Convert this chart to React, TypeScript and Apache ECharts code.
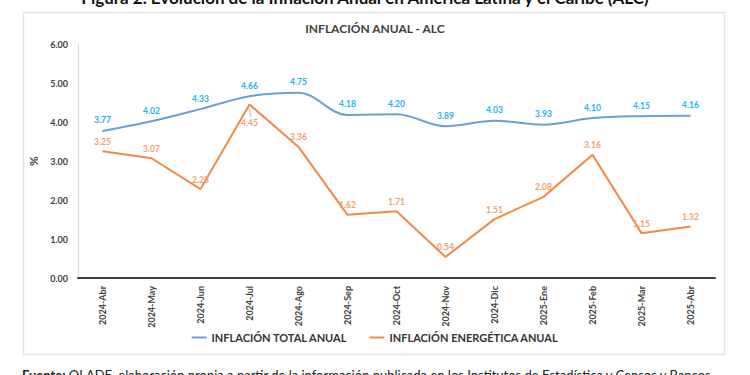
import React, { useEffect, useRef } from "react";
import * as echarts from "echarts";

const categories = [
  "2024-Abr", "2024-May", "2024-Jun", "2024-Jul", "2024-Ago", "2024-Sep", "2024-Oct",
  "2024-Nov", "2024-Dic", "2025-Ene", "2025-Feb", "2025-Mar", "2025-Abr",
];
const inflacionTotal = [3.77, 4.02, 4.33, 4.66, 4.75, 4.18, 4.2, 3.89, 4.03, 3.93, 4.1, 4.15, 4.16];
const inflacionEnergetica = [3.25, 3.07, 2.28, 4.45, 3.36, 1.62, 1.71, 0.54, 1.51, 2.08, 3.16, 1.15, 1.32];
const yTicks = [0, 1, 2, 3, 4, 5, 6];

const FONT = "Lato, 'Open Sans', sans-serif";

export default function App() {
  const ref = useRef<HTMLDivElement>(null);
  useEffect(() => {
    if (!ref.current) return;
    const chart = echarts.init(ref.current, undefined, { renderer: "svg" });
    const energData = inflacionEnergetica.map((v, i) =>
      i === 3
        ? { value: v, label: { position: "bottom", distance: 14 } }
        : v
    );
    chart.setOption({
      animation: false,
      backgroundColor: "#ffffff",
      textStyle: { fontFamily: FONT },
      title: {
        text: "INFLACIÓN ANUAL - ALC",
        left: "center",
        top: 17,
        textStyle: { fontFamily: FONT, fontSize: 12, fontWeight: "bold", color: "#404040" },
      },
      graphic: [
        {
          type: "rect",
          shape: { x: 23.5, y: 12.5, width: 701, height: 342 },
          style: { fill: "none", stroke: "#e4e4e4", lineWidth: 1.5 },
          z: -1,
        },
        {
          type: "line",
          shape: { x1: 249, y1: 108, x2: 251, y2: 117 },
          style: { stroke: "#bfbfbf", lineWidth: 1 },
        },
        {
          type: "text",
          x: 365,
          y: -3,
          style: {
            text: "Figura 2. Evolución de la Inflación Anual en América Latina y el Caribe (ALC)",
            fontFamily: FONT,
            fontSize: 17,
            fontWeight: "bold",
            fill: "#111",
            align: "center",
            verticalAlign: "middle",
          },
        },
        {
          type: "text",
          x: 22,
          y: 368,
          style: {
            text: "{b|Fuente:} OLADE, elaboración propia a partir de la información publicada en los Institutos de Estadística y Censos y Bancos",
            fontFamily: FONT,
            fontSize: 13,
            fill: "#222",
            rich: { b: { fontWeight: "bold", fontFamily: FONT, fontSize: 13, fill: "#222" } },
          },
        },
      ],
      legend: {
        bottom: 27,
        left: "center",
        itemWidth: 15,
        itemHeight: 2,
        itemGap: 22,
        icon: "rect",
        textStyle: { fontFamily: FONT, fontSize: 11, fontWeight: "bold", color: "#333" },
        data: ["INFLACIÓN TOTAL ANUAL", "INFLACIÓN ENERGÉTICA ANUAL"],
      },
      grid: { left: 78, right: 35, top: 44, bottom: 97, containLabel: false },
      xAxis: {
        type: "category",
        data: categories,
        boundaryGap: true,
        axisLine: { lineStyle: { color: "#404040", width: 2 } },
        axisTick: { show: false },
        axisLabel: {
          rotate: 90,
          margin: 8,
          fontFamily: FONT,
          fontSize: 9,
          fontWeight: "bold",
          color: "#404040",
        },
      },
      yAxis: {
        type: "value",
        min: yTicks[0],
        max: yTicks[yTicks.length - 1],
        interval: 1,
        name: "%",
        nameLocation: "middle",
        nameGap: 30,
        nameRotate: 90,
        nameTextStyle: { fontFamily: FONT, fontSize: 12, fontWeight: "bold", color: "#404040" },
        axisLine: { show: true, lineStyle: { color: "#d9d9d9", width: 1 } },
        axisTick: { show: false },
        splitLine: { show: false },
        axisLabel: {
          formatter: (v: number) => v.toFixed(2),
          margin: 10,
          fontFamily: FONT,
          fontSize: 9,
          fontWeight: "bold",
          color: "#404040",
        },
      },
      series: [
        {
          name: "INFLACIÓN TOTAL ANUAL",
          type: "line",
          data: inflacionTotal,
          smooth: 0.35,
          symbol: "circle",
          symbolSize: 0,
          showSymbol: true,
          color: "#6a9fd8",
          itemStyle: { color: "#6a9fd8" },
          lineStyle: { color: "#6a9fd8", width: 2 },
          label: {
            show: true,
            position: "top",
            distance: 6,
            formatter: (p: any) => Number(p.value).toFixed(2),
            fontFamily: FONT,
            fontSize: 8.5,
            fontWeight: "bold",
            color: "#22b3f2",
          },
        },
        {
          name: "INFLACIÓN ENERGÉTICA ANUAL",
          type: "line",
          data: energData,
          symbol: "circle",
          symbolSize: 0,
          showSymbol: true,
          color: "#f08a45",
          itemStyle: { color: "#f08a45" },
          lineStyle: { color: "#f08a45", width: 2 },
          label: {
            show: true,
            position: "top",
            distance: 5,
            formatter: (p: any) => Number(p.value).toFixed(2),
            fontFamily: FONT,
            fontSize: 8.5,
            fontWeight: "bold",
            color: "#f3a06a",
          },
        },
      ],
    });
    return () => chart.dispose();
  }, []);
  return <div ref={ref} style={{ width: 750, height: 375, position: "absolute", left: 0, top: 0 }} />;
}
